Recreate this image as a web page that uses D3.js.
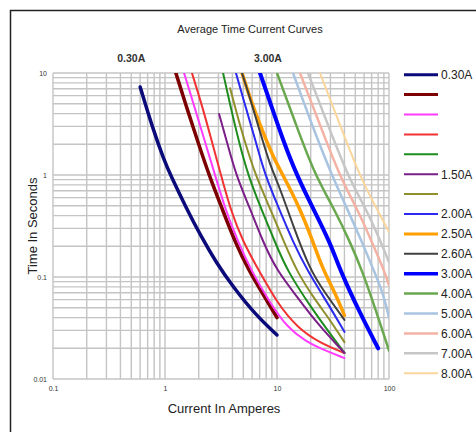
<!DOCTYPE html>
<html>
<head>
<meta charset="utf-8">
<script src="https://cdn.jsdelivr.net/npm/d3@7"></script>
<style>
  body { margin: 0; background: #fff; }
  text { font-family: "Liberation Sans", Arial, sans-serif; }
</style>
</head>
<body>
<div id="chart"></div>
<script>
// nomes da legenda (alguns sem texto)
let seriesNames = ['0.30A', '', '', '', '', '1.50A', '', '2.00A', '2.50A', '2.60A', '3.00A', '4.00A', '5.00A', '6.00A', '7.00A', '8.00A'];

// pontos das curvas [corrente A, tempo s]
let c030 = [[0.6, 7.3], [0.77, 2.95], [0.98, 1.4], [1.12, 1.0], [1.57, 0.46], [2.1, 0.25], [2.85, 0.14], [4.05, 0.08], [6.5, 0.042], [10, 0.027]];
let cDarkRed = [[1.25, 10], [1.57, 4.5], [1.97, 2.1], [2.47, 1.0], [3.23, 0.47], [4.22, 0.22], [5.62, 0.115], [7.66, 0.065], [10, 0.04]];
let cMagenta = [[1.48, 10], [1.85, 4.5], [2.28, 2.1], [2.8, 1.0], [3.43, 0.47], [4.49, 0.22], [5.98, 0.112], [8.66, 0.056], [12.3, 0.032], [18.5, 0.023], [24.2, 0.02], [40, 0.016]];
let cRed = [[1.74, 10], [2.18, 4.5], [2.63, 2.1], [3.16, 1.0], [3.81, 0.47], [4.97, 0.22], [6.91, 0.115], [10, 0.056], [15.1, 0.032], [24.2, 0.0225], [40, 0.018]];
let cGreen = [[3.3, 10], [3.88, 4.5], [4.58, 2.1], [5.51, 1.0], [7.19, 0.47], [9.6, 0.22], [12.3, 0.115], [21, 0.047], [29.7, 0.028], [40, 0.018]];
let c150 = [[3.04, 3.96], [3.58, 2.1], [4.3, 1.0], [5.74, 0.47], [7.5, 0.22], [10, 0.115], [15.1, 0.064], [22.8, 0.035], [40, 0.018]];
let cOlive = [[3.81, 7.1], [4.58, 3.3], [5.51, 1.68], [6.49, 0.98], [8.66, 0.47], [11.55, 0.22], [15.1, 0.112], [21.8, 0.06], [29.7, 0.038], [40, 0.023]];
let c200 = [[4.3, 10], [5.29, 4.5], [6.49, 2.1], [7.81, 1.0], [10.4, 0.47], [13.9, 0.22], [18.5, 0.117], [29.7, 0.051], [40, 0.029]];
let c250 = [[4.87, 10], [5.74, 5.7], [7.05, 3.1], [9.3, 1.47], [11.3, 1.0], [16.05, 0.47], [21, 0.22], [25.8, 0.117], [33, 0.07], [40, 0.042]];
let c260 = [[4.87, 10], [5.74, 5.7], [7.05, 2.64], [8.66, 1.25], [10.6, 0.75], [13.9, 0.32], [19.7, 0.117], [26.8, 0.07], [40, 0.038]];
let c300 = [[7.05, 10], [8.66, 5.2], [11.3, 2.2], [15.1, 0.98], [21, 0.47], [29.7, 0.22], [36.5, 0.117], [55.1, 0.044], [80, 0.02]];
let c400 = [[10, 10], [14.8, 3.1], [21.8, 1.0], [32.3, 0.47], [44.9, 0.22], [57.4, 0.117], [78, 0.044], [100, 0.019]];
let c500 = [[13.9, 10], [20.5, 3.1], [31, 0.98], [42.2, 0.47], [57.4, 0.22], [73.5, 0.114], [88.4, 0.07], [100, 0.04]];
let c600 = [[16.05, 10], [24.2, 3.1], [36.5, 0.96], [51.8, 0.47], [70.5, 0.22], [90.2, 0.117], [100, 0.083]];
let c700 = [[18.9, 10], [28.5, 3.1], [43.1, 0.96], [62.3, 0.47], [83.1, 0.23], [100, 0.14]];
let c800 = [[24.2, 10], [36.5, 3.1], [55.1, 0.96], [79.8, 0.44], [100, 0.276]];

let curves = [c030, cDarkRed, cMagenta, cRed, cGreen, c150, cOlive, c200, c250, c260, c300, c400, c500, c600, c700, c800];

// eixos
let xTicks = [0.1, 1, 10, 100];
let xTickLabels = ['0.1', '1', '10', '100'];
let yTicks = [0.01, 0.1, 1, 10];
let yTickLabels = ['0.01', '0.1', '1', '10'];
let topLabels = ['0.30A', '3.00A'];

// estilos
let colors = ['#0a0a7a', '#7d0000', '#ff3cff', '#f23232', '#1e8c1e', '#7a1f88', '#8f8f2c', '#2a2af0', '#ffa000', '#404040',
              '#0000ff', '#6aa84f', '#a9c4e0', '#f4b2a4', '#c6c6c6', '#fad69c'];
let widths = [3.5, 3.5, 2, 2, 2, 2, 2, 2, 3.5, 2, 4, 2.5, 2.5, 2.5, 2.5, 2];
let legendWidths = [3, 3, 2, 2, 2, 2, 2, 2, 3, 2, 3.5, 2.5, 2.5, 2.5, 2.5, 2];

let width = 476;
let height = 432;

let svg = d3.select('#chart').append('svg').attr('width', width).attr('height', height);

// moldura
svg.append('rect')
   .attr('x', 10.5).attr('y', 10.5)
   .attr('width', 520).attr('height', 520)
   .attr('fill', 'none').attr('stroke', '#222').attr('stroke-width', 1.5);

let x = d3.scaleLog().domain([0.1, 100]).range([53, 389]);
let y = d3.scaleLog().domain([0.01, 10]).range([379, 73]);

// grade (linhas de 1 a 9 por decada)
let xGrid = [];
for (let d = -1; d <= 1; d++) {
  for (let k = 1; k <= 9; k++) { xGrid.push(k * Math.pow(10, d)); }
}
xGrid.push(100);
let yGrid = [];
for (let d = -2; d <= 0; d++) {
  for (let k = 1; k <= 9; k++) { yGrid.push(k * Math.pow(10, d)); }
}
yGrid.push(10);

let grid = svg.append('g').attr('class', 'grid');
grid.selectAll('line.gx')
    .data(xGrid)
    .enter().append('line')
            .attr('class', 'gx')
            .attr('x1', function (d) { return x(d); })
            .attr('x2', function (d) { return x(d); })
            .attr('y1', y(10)).attr('y2', y(0.01))
            .attr('stroke', '#c4c4c4').attr('stroke-width', 1.4);
grid.selectAll('line.gy')
    .data(yGrid)
    .enter().append('line')
            .attr('class', 'gy')
            .attr('y1', function (d) { return y(d); })
            .attr('y2', function (d) { return y(d); })
            .attr('x1', x(0.1)).attr('x2', x(100))
            .attr('stroke', '#c4c4c4').attr('stroke-width', 1.4);

// eixos com rotulos pequenos
let xAxis = d3.axisBottom(x).tickValues(xTicks).tickSize(0).tickPadding(7)
              .tickFormat(function (d, i) { return xTickLabels[i]; });
let yAxis = d3.axisLeft(y).tickValues(yTicks).tickSize(0).tickPadding(6)
              .tickFormat(function (d, i) { return yTickLabels[i]; });

let gx = svg.append('g').attr('transform', 'translate(0,' + y(0.01) + ')').call(xAxis);
let gy = svg.append('g').attr('transform', 'translate(' + x(0.1) + ',0)').call(yAxis);
gx.select('.domain').remove();
gy.select('.domain').remove();
svg.selectAll('.tick text')
   .attr('font-family', '"Liberation Sans", Arial, sans-serif')
   .attr('font-size', 7).attr('fill', '#333');

// curvas
svg.append('clipPath').attr('id', 'plotClip')
   .append('rect')
   .attr('x', x(0.1)).attr('y', y(10))
   .attr('width', x(100) - x(0.1)).attr('height', y(0.01) - y(10));

let line = d3.line()
             .x(function (d) { return x(d[0]); })
             .y(function (d) { return y(d[1]); })
             .curve(d3.curveBasis);

let curveGroup = svg.append('g').attr('clip-path', 'url(#plotClip)');
curveGroup.selectAll('path')
    .data(curves)
    .enter().append('path')
            .attr('fill', 'none')
            .attr('stroke', function (d, i) { return colors[i]; })
            .attr('stroke-width', function (d, i) { return widths[i]; })
            .attr('stroke-linecap', 'round')
            .attr('d', function (d) { return line(d); });

// titulo e rotulos
svg.append('text')
   .attr('x', 250).attr('y', 33)
   .attr('text-anchor', 'middle')
   .attr('font-size', 11).attr('fill', '#222')
   .text('Average Time Current Curves');

svg.selectAll('text.top')
   .data(topLabels)
   .enter().append('text')
           .attr('class', 'top')
           .attr('x', function (d, i) { return i == 0 ? x(0.5) : x(8.3); })
           .attr('y', 62)
           .attr('text-anchor', 'middle')
           .attr('font-family', '"DejaVu Sans", sans-serif')
           .attr('font-weight', 'bold')
           .attr('font-size', 10.5).attr('fill', '#333')
           .text(function (d) { return d; });

svg.append('text')
   .attr('x', 224).attr('y', 413)
   .attr('text-anchor', 'middle')
   .attr('font-size', 13).attr('fill', '#222')
   .text('Current In Amperes');

svg.append('text')
   .attr('transform', 'translate(37,226) rotate(-90)')
   .attr('text-anchor', 'middle')
   .attr('font-size', 13).attr('fill', '#222')
   .text('Time In Seconds');

// legenda
let legend = svg.append('g').attr('class', 'legend');
let rows = legend.selectAll('g')
    .data(seriesNames)
    .enter().append('g')
            .attr('transform', function (d, i) { return 'translate(404,' + (74.7 + i * 19.9) + ')'; });
rows.append('line')
    .attr('x1', 0).attr('x2', 34)
    .attr('stroke', function (d, i) { return colors[i]; })
    .attr('stroke-width', function (d, i) { return legendWidths[i]; });
rows.append('text')
    .attr('x', 37).attr('dy', '0.36em')
    .attr('font-size', 12).attr('fill', '#222')
    .text(function (d) { return d; });
</script>
</body>
</html>
